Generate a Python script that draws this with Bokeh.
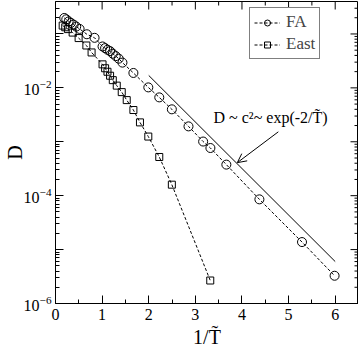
import numpy as np
from bokeh.plotting import figure
from bokeh.models import (FixedTicker, Legend, LegendItem,
                          Label, Arrow, OpenHead, Range1d, ColumnDataSource)
from bokeh.embed import file_html
from bokeh.resources import INLINE

# ---- data ----
fa_x = [0.188, 0.231, 0.282, 0.331, 0.389, 0.444, 0.517, 0.673, 0.838,
        1.009, 1.064, 1.115, 1.171, 1.229, 1.293, 1.357, 1.436, 1.671,
        1.991, 2.226, 2.496, 2.853, 3.167, 3.323, 3.665, 4.374, 5.288, 5.987]
fa_y = [0.198, 0.187, 0.171, 0.160, 0.149, 0.137, 0.124, 0.0987, 0.0848,
        0.0586, 0.0546, 0.0509, 0.048, 0.043, 0.0388, 0.0348, 0.0294, 0.0189,
        0.0102, 0.00666, 0.0040, 0.00193, 0.00101, 0.000766, 0.000377,
        8.55e-5, 1.38e-5, 3.27e-6]

east_x = [0.154, 0.209, 0.267, 0.368, 0.496, 0.662, 0.774,
          1.009, 1.064, 1.115, 1.171, 1.229, 1.314, 1.421, 1.528, 1.671,
          1.812, 1.991, 2.226, 2.496, 3.32]
east_y = [0.143, 0.133, 0.123, 0.106, 0.0839, 0.0611, 0.0454,
          0.0273, 0.0231, 0.0199, 0.0168, 0.0139, 0.0110, 0.00834, 0.00593,
          0.00388, 0.00229, 0.00125, 5.22e-4, 1.60e-4, 2.67e-6]

guide_x = [2.0, 6.0]
guide_y = [0.017, 6.0e-6]

annot_text = "D ~ c\u00b2~ exp(-2/T\u0303)"
annot_pos = (3.39, 2.8e-3)
arrow_start = (4.78, 1.53e-3)
arrow_end = (3.90, 4.1e-4)

x_lo, x_hi = 0.0, 6.5
y_lo, y_hi = 1e-6, 0.4
x_major = [0, 1, 2, 3, 4, 5, 6]
x_minor = [0.5, 1.5, 2.5, 3.5, 4.5, 5.5, 6.5]
y_major = [1e-6, 1e-5, 1e-4, 1e-3, 1e-2, 1e-1]
y_labelled = [1e-6, 1e-4, 1e-2]
y_minor = [k * m for m in y_major for k in range(2, 10) if k * m < y_hi]

FONT = "Liberation Serif"

p = figure(width=358, height=350, x_range=Range1d(x_lo, x_hi),
           y_range=Range1d(y_lo, y_hi), y_axis_type="log", title=None,
           output_backend="svg", toolbar_location=None,
           min_border_left=0, min_border_right=0, min_border_top=1,
           min_border_bottom=0)
p.grid.visible = False
p.background_fill_color = "white"
p.border_fill_color = "white"
p.outline_line_color = "black"
p.outline_line_width = 1

xt = FixedTicker(ticks=x_major, minor_ticks=x_minor)
yt = FixedTicker(ticks=y_major, minor_ticks=y_minor)


def style(ax):
    ax.major_tick_in = 8
    ax.major_tick_out = 0
    ax.minor_tick_in = 4
    ax.minor_tick_out = 0
    ax.axis_line_color = "black"
    ax.major_tick_line_color = "black"
    ax.minor_tick_line_color = "black"
    ax.major_label_text_font = FONT
    ax.major_label_text_font_size = "16px"
    ax.major_label_text_color = "black"
    ax.axis_label_text_font = FONT
    ax.axis_label_text_font_size = "20px"
    ax.axis_label_text_font_style = "normal"
    ax.axis_label_text_color = "black"


xa = p.xaxis[0]
xa.ticker = xt
style(xa)
xa.axis_label = "1/T\u0303"
xa.major_label_standoff = 5
xa.axis_label_standoff = 3

ya = p.yaxis[0]
ya.ticker = yt
style(ya)
ya.axis_label = "D"
ya.major_label_standoff = 4
ya.axis_label_standoff = -5
ya.major_label_overrides = {v: "" for v in y_major if v not in y_labelled}

# mirror ticks on the top and right edges (inward), in screen lengths
p.ray(x=[x_hi] * len(y_major), y=y_major, length=8, angle=np.pi,
      length_units="screen", line_color="black", line_width=1)
p.ray(x=[x_hi] * len(y_minor), y=y_minor, length=4, angle=np.pi,
      length_units="screen", line_color="black", line_width=1)
p.ray(x=x_major, y=[y_hi] * len(x_major), length=8, angle=-np.pi / 2,
      length_units="screen", line_color="black", line_width=1)
p.ray(x=x_minor, y=[y_hi] * len(x_minor), length=4, angle=-np.pi / 2,
      length_units="screen", line_color="black", line_width=1)

fa_src = ColumnDataSource(dict(x=fa_x, y=fa_y))
east_src = ColumnDataSource(dict(x=east_x, y=east_y))

fa_l = p.line("x", "y", source=fa_src, line_color="black", line_width=1,
              line_dash="3 2")
fa_m = p.scatter("x", "y", source=fa_src, marker="circle", size=9,
                 line_color="black", fill_color=None, line_width=1)
ea_l = p.line("x", "y", source=east_src, line_color="black", line_width=1,
              line_dash="3 2")
ea_m = p.scatter("x", "y", source=east_src, marker="square", size=7,
                 line_color="black", fill_color=None, line_width=1)

p.line(guide_x, guide_y, line_color="black", line_width=1)

p.add_layout(Label(x=annot_pos[0], y=annot_pos[1], text=annot_text,
                   text_font=FONT, text_font_size="16px",
                   text_baseline="middle", text_color="black"))
p.add_layout(Arrow(x_start=arrow_start[0], y_start=arrow_start[1],
                   x_end=arrow_end[0], y_end=arrow_end[1], line_width=1,
                   line_color="black",
                   end=OpenHead(size=9, line_width=1, line_color="black")))

legend = Legend(items=[LegendItem(label="FA", renderers=[fa_l, fa_m]),
                       LegendItem(label="East", renderers=[ea_l, ea_m])],
                location=(194, 244), label_text_font=FONT,
                label_text_font_size="17px", glyph_width=26, glyph_height=15,
                label_height=15, padding=4, spacing=2, margin=0,
                label_standoff=6, border_line_color="black",
                border_line_width=1, background_fill_alpha=1)
p.add_layout(legend)

open("out.html", "w").write(file_html(p, INLINE))
